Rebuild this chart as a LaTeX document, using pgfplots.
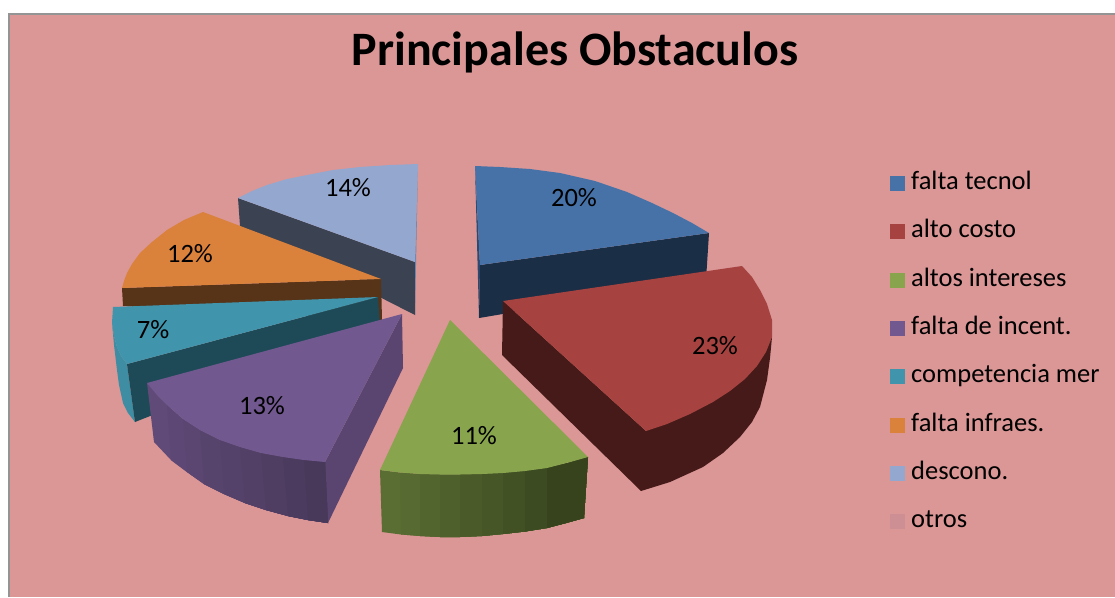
\documentclass[border=0pt]{standalone}
\usepackage{fontspec}
\setmainfont{Carlito}
\usepackage{pgfplots}
\pgfplotsset{compat=1.18}
\definecolor{bgc}{HTML}{DB9696}
\definecolor{blueT}{HTML}{4672A8}
\definecolor{blueD}{HTML}{1A2E45}
\definecolor{blueE}{HTML}{2C4A70}
\definecolor{redT}{HTML}{A64341}
\definecolor{redD}{HTML}{451A18}
\definecolor{greenT}{HTML}{88A44D}
\definecolor{greenL}{HTML}{5A6E33}
\definecolor{greenR}{HTML}{36431D}
\definecolor{purT}{HTML}{71588F}
\definecolor{purF}{HTML}{5A4570}
\definecolor{purL}{HTML}{5F4A78}
\definecolor{purR}{HTML}{483859}
\definecolor{tealT}{HTML}{4095AD}
\definecolor{tealO}{HTML}{3E8DA3}
\definecolor{tealD}{HTML}{1E4A57}
\definecolor{oraT}{HTML}{DA813B}
\definecolor{oraD}{HTML}{573318}
\definecolor{lbT}{HTML}{94A8CF}
\definecolor{lbD}{HTML}{3B4252}
\definecolor{lbE}{HTML}{6C85AE}
\definecolor{otr}{HTML}{CD8F94}
\newcommand\poly[2]{\addplot[fill=#1,draw=none,forget plot] coordinates {#2} --cycle;}
\newcommand\lab[3]{\node[font=\fontsize{26.5}{30}\selectfont] at (axis cs:#1,#2) {#3};}
\begin{document}
\begin{tikzpicture}
\begin{axis}[
  scale only axis, width=1115pt, height=597pt,
  xmin=0, xmax=1115, ymin=0, ymax=597, y dir=reverse,
  hide axis,
  legend image code/.code={\fill[#1,draw=none] (0pt,-7.5pt) rectangle (15pt,7.5pt); \path (21pt,0pt);},
  legend cell align=left,
  legend style={at={(axis cs:890,171.5)}, anchor=north west, draw=none, fill=none,
    inner sep=0pt, outer sep=0pt, row sep=24.3pt,
    font=\fontsize{26.5}{30}\selectfont,
    nodes={inner sep=0pt, outer sep=0pt, text height=18pt, text depth=6pt}},
]
% page extent and background
\addplot[fill=white, draw=none, forget plot] coordinates {(0,0) (1115,0) (1115,597) (0,597)} --cycle;
\addplot[fill=bgc, draw=none, forget plot] coordinates {(9,14) (1115,14) (1115,597) (9,597)} --cycle;
\addplot[draw=black!42, line width=2pt, forget plot] coordinates {(9,597) (9,14) (1115,14)};
% light blue
\poly{lbD}{(238,198) (240,226) (415,315) (415,262)}
\poly{lbE}{(418,164) (415,262) (415,315)}
\poly{lbT}{(238,198) (252,191) (267,185) (287,179) (307,175) (333,170) (360,167) (390,165) (418,164) (415,262)}
% orange
\poly{oraD}{(122,288) (381,279) (382,320) (123,306)}
\poly{oraT}{(381,279) (203,212) (184,220) (167,230) (152,242) (140,253) (132,264) (127,273) (124,281) (122,288)}
% teal
\poly{tealO}{(112,323) (114,336) (117,347) (121,356) (127,364) (135,422) (128,413) (123,403) (119,385) (117,370) (114,345)}
\poly{tealD}{(378,297) (380,325) (135,422) (127,364)}
\poly{tealT}{(378,297) (113,307) (112,323) (114,336) (117,347) (121,356) (127,364)}
% purple
\poly{purF}{(402,314) (403,368) (328,523) (325,462)}
\poly{purL}{(147,383) (167,405) (183,419) (200,430) (220,440) (240,447) (261,453) (283,457) (304,460) (325,462) (328,523) (308,520) (288,516) (266,510) (245,503) (224,494) (204,484) (187,472) (171,460) (154,442)}
\poly{purL!90!purR}{(167,405) (183,419) (200,430) (220,440) (240,447) (261,453) (283,457) (304,460) (325,462) (328,523) (308,520) (288,516) (266,510) (245,503) (224,494) (204,484) (187,472) (171,460)}
\poly{purL!78!purR}{(183,419) (200,430) (220,440) (240,447) (261,453) (283,457) (304,460) (325,462) (328,523) (308,520) (288,516) (266,510) (245,503) (224,494) (204,484) (187,472)}
\poly{purL!66!purR}{(200,430) (220,440) (240,447) (261,453) (283,457) (304,460) (325,462) (328,523) (308,520) (288,516) (266,510) (245,503) (224,494) (204,484)}
\poly{purL!54!purR}{(220,440) (240,447) (261,453) (283,457) (304,460) (325,462) (328,523) (308,520) (288,516) (266,510) (245,503) (224,494)}
\poly{purL!42!purR}{(240,447) (261,453) (283,457) (304,460) (325,462) (328,523) (308,520) (288,516) (266,510) (245,503)}
\poly{purL!30!purR}{(261,453) (283,457) (304,460) (325,462) (328,523) (308,520) (288,516) (266,510)}
\poly{purL!15!purR}{(283,457) (304,460) (325,462) (328,523) (308,520) (288,516)}
\poly{purR}{(304,460) (325,462) (328,523) (308,520)}
\poly{purT}{(402,314) (147,383) (157,395) (167,405) (183,419) (200,430) (220,440) (240,447) (261,453) (283,457) (304,460) (325,462)}
% blue
\poly{blueE}{(475,166) (480,265) (479,318)}
\poly{blueD}{(480,265) (709,233) (706,280) (479,318)}
\poly{blueT}{(475,166) (500,167) (530,169) (560,173) (595,181) (627,192) (652,203) (673,213) (692,223) (709,233) (480,265)}
% red
\poly{redD}{(503,301) (502,355) (641,491) (670,482) (703,467) (723,453) (740,437) (752,422) (760,407) (767,380) (770,358) (772,337) (646,431)}
\poly{redT}{(503,301) (742,266) (752,277) (760,290) (767,304) (772,320) (772,337) (766,352) (757,366) (745,379) (730,391) (713,402) (690,414) (667,424) (646,431)}
% green
\poly{greenL}{(380,470) (400,472.5) (420,474) (440,474.5) (460,474.5) (482,474) (503,473) (525,471) (547,468) (568,463) (588,457) (584,518) (566,523) (547,528) (525,531.5) (503,534) (482,536) (460,537) (440,537) (420,536) (401,534.5) (382,532)}
\poly{greenL!90!greenR}{(400,472.5) (420,474) (440,474.5) (460,474.5) (482,474) (503,473) (525,471) (547,468) (568,463) (588,457) (584,518) (566,523) (547,528) (525,531.5) (503,534) (482,536) (460,537) (440,537) (420,536) (401,534.5)}
\poly{greenL!80!greenR}{(420,474) (440,474.5) (460,474.5) (482,474) (503,473) (525,471) (547,468) (568,463) (588,457) (584,518) (566,523) (547,528) (525,531.5) (503,534) (482,536) (460,537) (440,537) (420,536)}
\poly{greenL!68!greenR}{(440,474.5) (460,474.5) (482,474) (503,473) (525,471) (547,468) (568,463) (588,457) (584,518) (566,523) (547,528) (525,531.5) (503,534) (482,536) (460,537) (440,537)}
\poly{greenL!56!greenR}{(460,474.5) (482,474) (503,473) (525,471) (547,468) (568,463) (588,457) (584,518) (566,523) (547,528) (525,531.5) (503,534) (482,536) (460,537)}
\poly{greenL!44!greenR}{(482,474) (503,473) (525,471) (547,468) (568,463) (588,457) (584,518) (566,523) (547,528) (525,531.5) (503,534) (482,536)}
\poly{greenL!32!greenR}{(503,473) (525,471) (547,468) (568,463) (588,457) (584,518) (566,523) (547,528) (525,531.5) (503,534)}
\poly{greenL!18!greenR}{(525,471) (547,468) (568,463) (588,457) (584,518) (566,523) (547,528) (525,531.5)}
\poly{greenR}{(547,468) (568,463) (588,457) (584,518) (566,523) (547,528)}
\poly{greenT}{(450,320) (588,457) (570,462) (547,468) (525,471) (503,473) (482,474) (460,474.5) (440,474.5) (420,474) (400,472.5) (380,470)}
% legend
\addlegendimage{fill=blueT}\addlegendentry{falta tecnol}
\addlegendimage{fill=redT}\addlegendentry{alto costo}
\addlegendimage{fill=greenT}\addlegendentry{altos intereses}
\addlegendimage{fill=purT}\addlegendentry{falta de incent.}
\addlegendimage{fill=tealT}\addlegendentry{competencia mer}
\addlegendimage{fill=oraT}\addlegendentry{falta infraes.}
\addlegendimage{fill=lbT}\addlegendentry{descono.}
\addlegendimage{fill=otr}\addlegendentry{otros}
% labels
\lab{574}{198}{20\%}
\lab{715}{346}{23\%}
\lab{474}{436}{11\%}
\lab{262}{406}{13\%}
\lab{153}{330}{7\%}
\lab{190}{254}{12\%}
\lab{348}{188}{14\%}
\node[font=\bfseries\fontsize{48}{54}\selectfont] at (axis cs:575,52) {Principales Obstaculos};
\end{axis}
\end{tikzpicture}
\end{document}
